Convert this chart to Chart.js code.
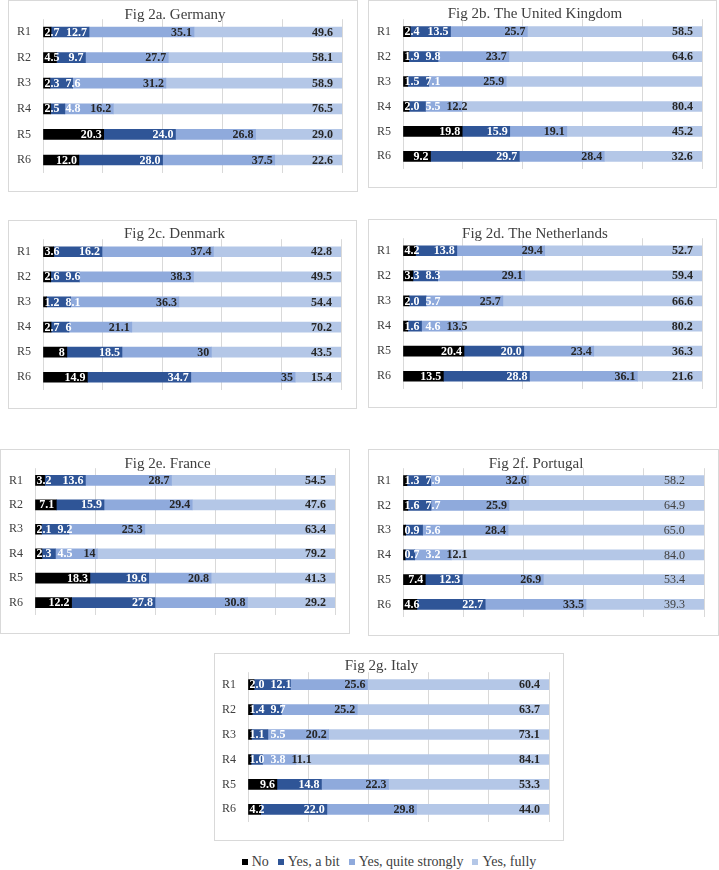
<!DOCTYPE html>
<html>
<head>
<meta charset="utf-8">
<script src="https://cdn.jsdelivr.net/npm/chart.js@4.4.0/dist/chart.umd.min.js"></script>
<style>
body{margin:0;background:#fff;width:719px;height:870px;position:relative;overflow:hidden;font-family:"Liberation Serif","Times New Roman",serif;}
.box{position:absolute;border:1px solid #d9d9d9;box-sizing:border-box;}
canvas{position:absolute;}
#legend{position:absolute;left:214px;top:853px;width:350px;height:18px;display:flex;justify-content:center;align-items:center;font-size:14px;color:#404040;white-space:nowrap;}
#legend .sw{display:inline-block;width:6px;height:6px;margin-right:4px;}
#legend .it{display:flex;align-items:center;margin-right:9px;}
#legend .it:last-child{margin-right:0;}
</style>
</head>
<body>
<script>
// rows, series and colours
var rowLabels = ['R1','R2','R3','R4','R5','R6'];
var seriesNames = ['No','Yes, a bit','Yes, quite strongly','Yes, fully'];
var seriesColors = ['#000000','#2f5597','#8faadc','#b4c7e7'];

// values as printed on the bars (strings keep the source formatting)
var deNo     = ['2.7','4.5','2.3','2.5','20.3','12.0'];
var deBit    = ['12.7','9.7','7.6','4.8','24.0','28.0'];
var deStrong = ['35.1','27.7','31.2','16.2','26.8','37.5'];
var deFully  = ['49.6','58.1','58.9','76.5','29.0','22.6'];

var ukNo     = ['2.4','1.9','1.5','2.0','19.8','9.2'];
var ukBit    = ['13.5','9.8','7.1','5.5','15.9','29.7'];
var ukStrong = ['25.7','23.7','25.9','12.2','19.1','28.4'];
var ukFully  = ['58.5','64.6','65.5','80.4','45.2','32.6'];
var ukHidden = [[3,2]]; // R3 "fully" has no label in the figure

var dkNo     = ['3.6','2.6','1.2','2.7','8','14.9'];
var dkBit    = ['16.2','9.6','8.1','6','18.5','34.7'];
var dkStrong = ['37.4','38.3','36.3','21.1','30','35'];
var dkFully  = ['42.8','49.5','54.4','70.2','43.5','15.4'];

var nlNo     = ['4.2','3.3','2.0','1.6','20.4','13.5'];
var nlBit    = ['13.8','8.3','5.7','4.6','20.0','28.8'];
var nlStrong = ['29.4','29.1','25.7','13.5','23.4','36.1'];
var nlFully  = ['52.7','59.4','66.6','80.2','36.3','21.6'];

var frNo     = ['3.2','7.1','2.1','2.3','18.3','12.2'];
var frBit    = ['13.6','15.9','9.2','4.5','19.6','27.8'];
var frStrong = ['28.7','29.4','25.3','14','20.8','30.8'];
var frFully  = ['54.5','47.6','63.4','79.2','41.3','29.2'];

var ptNo     = ['1.3','1.6','0.9','0.7','7.4','4.6'];
var ptBit    = ['7.9','7.7','5.6','3.2','12.3','22.7'];
var ptStrong = ['32.6','25.9','28.4','12.1','26.9','33.5'];
var ptFully  = ['58.2','64.9','65.0','84.0','53.4','39.3'];

var itNo     = ['2.0','1.4','1.1','1.0','9.6','4.2'];
var itBit    = ['12.1','9.7','5.5','3.8','14.8','22.0'];
var itStrong = ['25.6','25.2','20.2','11.1','22.3','29.8'];
var itFully  = ['60.4','63.7','73.1','84.1','53.3','44.0'];

var FONT = '"Liberation Serif","Times New Roman",serif';
var labelColors = ['#ffffff','#ffffff','#262626','#262626'];

// panel boxes: left, top, right, bottom (page px) + inner plot offsets
var panels = [
  {title:'Fig 2a. Germany', data:[deNo,deBit,deStrong,deFully],
   l:8, t:0, r:357, b:191, plotL:35, plotT:16, padR:16, padB:15, titleY:12},
  {title:'Fig 2b. The United Kingdom', data:[ukNo,ukBit,ukStrong,ukFully], hidden:ukHidden,
   l:368, t:0, r:716, b:187, plotL:35, plotT:17, padR:15, padB:15, titleY:12},
  {title:'Fig 2c. Denmark', data:[dkNo,dkBit,dkStrong,dkFully],
   l:8, t:220, r:356, b:408, plotL:35, plotT:17, padR:16, padB:15, titleY:12},
  {title:'Fig 2d. The Netherlands', data:[nlNo,nlBit,nlStrong,nlFully],
   l:368, t:219, r:716, b:407, plotL:35, plotT:17, padR:15, padB:16, titleY:13},
  {title:'Fig 2e. France', data:[frNo,frBit,frStrong,frFully],
   l:0, t:449, r:349, b:633, plotL:35, plotT:15, padR:15, padB:14, titleY:11},
  {title:'Fig 2f. Portugal', data:[ptNo,ptBit,ptStrong,ptFully], lastPlain:true,
   l:368, t:449, r:718, b:635, plotL:35, plotT:16, padR:15, padB:15, titleY:12},
  {title:'Fig 2g. Italy', data:[itNo,itBit,itStrong,itFully],
   l:214, t:653, r:563, b:840, plotL:34, plotT:16, padR:15, padB:16, titleY:10}
];

// labels drawn near the inner end of each segment, like the Excel figure
var barLabels = {
  id: 'barLabels',
  afterDatasetsDraw: function(chart) {
    var opts = chart.options.plugins.barLabels;
    var ctx = chart.ctx;
    var area = chart.chartArea;
    var n = chart.data.datasets.length;
    ctx.save();
    ctx.textBaseline = 'middle';
    for (var r = 0; r < chart.data.labels.length; r++) {
      var lastRight = -1e9;
      for (var i = 0; i < n; i++) {
        var ds = chart.data.datasets[i];
        var el = chart.getDatasetMeta(i).data[r];
        var text = ds.labelText[r];
        var hide = (opts.hidden || []).some(function(h){ return h[0] === i && h[1] === r; });
        if (!text || hide) continue;
        var last = i === n - 1;
        var plain = last && opts.lastPlain;
        ctx.font = (plain ? '' : 'bold ') + '12px ' + FONT;
        var w = ctx.measureText(text).width;
        var start = Math.min(el.base, el.x);
        var end = Math.min(Math.max(el.base, el.x), area.right);
        var gap = last ? (plain ? 19 : 9) : 2;
        var left = end - gap - w;
        if (left < start + 1) left = start + 1;
        if (left < lastRight + 6) left = lastRight + 6;
        ctx.fillStyle = plain ? '#404040' : labelColors[i];
        ctx.fillText(text, left, el.y + 0.5);
        lastRight = left + w;
      }
    }
    ctx.restore();
  }
};

panels.forEach(function(p, k) {
  var w = p.r - p.l + 1, h = p.b - p.t + 1;
  var box = document.createElement('div');
  box.className = 'box';
  box.style.left = p.l + 'px'; box.style.top = p.t + 'px';
  box.style.width = w + 'px'; box.style.height = h + 'px';
  document.body.appendChild(box);

  var cv = document.createElement('canvas');
  cv.id = 'chart' + k;
  cv.width = w; cv.height = h;
  cv.style.left = p.l + 'px'; cv.style.top = p.t + 'px';
  cv.style.width = w + 'px'; cv.style.height = h + 'px';
  document.body.appendChild(cv);

  var datasets = p.data.map(function(arr, i) {
    return {
      label: seriesNames[i],
      data: arr.map(parseFloat),
      labelText: arr,
      backgroundColor: seriesColors[i],
      borderWidth: 0,
      barThickness: 10
    };
  });

  var padTop = p.titleY - 9;
  new Chart(cv, {
    type: 'bar',
    data: { labels: rowLabels, datasets: datasets },
    options: {
      indexAxis: 'y',
      responsive: false,
      animation: false,
      devicePixelRatio: 1,
      layout: { padding: { left: 0, top: 0, right: p.padR, bottom: p.padB } },
      scales: {
        x: {
          stacked: true, min: 0, max: 100,
          ticks: { display: false, stepSize: 20 },
          grid: { color: '#d9d9d9', lineWidth: 1, drawTicks: false },
          border: { display: false },
          afterFit: function(s) { s.height = 0; }
        },
        y: {
          stacked: true,
          grid: { display: false, drawTicks: false },
          border: { display: false },
          ticks: { color: '#404040', padding: 12, font: { family: FONT, size: 12 } },
          afterFit: function(s) { s.width = p.plotL; }
        }
      },
      plugins: {
        legend: { display: false },
        tooltip: { enabled: false },
        title: {
          display: true, text: p.title, color: '#404040',
          font: { family: FONT, size: 15, weight: 'normal', lineHeight: 1.2 },
          padding: { top: padTop, bottom: p.plotT - 18 - padTop }
        },
        barLabels: { hidden: p.hidden, lastPlain: p.lastPlain }
      }
    },
    plugins: [barLabels]
  });
});

// shared legend under the last panel
var lg = document.createElement('div');
lg.id = 'legend';
seriesNames.forEach(function(name, i) {
  var it = document.createElement('span');
  it.className = 'it';
  var sw = document.createElement('span');
  sw.className = 'sw';
  sw.style.background = seriesColors[i];
  it.appendChild(sw);
  it.appendChild(document.createTextNode(name));
  lg.appendChild(it);
});
document.body.appendChild(lg);
</script>
</body>
</html>
